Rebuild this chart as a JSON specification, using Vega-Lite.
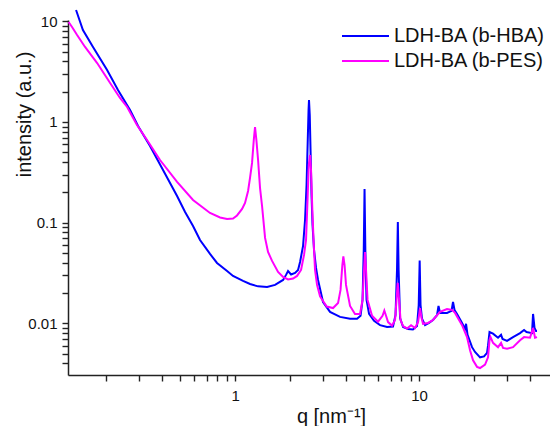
{
  "$schema": "https://vega.github.io/schema/vega-lite/v6.json",
  "width": 482,
  "height": 355,
  "autosize": {"type": "none"},
  "padding": {"left": 68, "top": 20, "right": 0, "bottom": 51},
  "background": "white",
  "config": {"view": {"stroke": null}, "font": "Liberation Sans"},
  "datasets": {
    "hba": [
      {"q":0.1367,"I":12.95},{"q":0.149,"I":8.2},{"q":0.169,"I":5.56},{"q":0.2016,"I":3.28},{"q":0.231,"I":2.08},{"q":0.2687,"I":1.316},{"q":0.297,"I":0.913},{"q":0.345,"I":0.578},{"q":0.406,"I":0.334},{"q":0.484,"I":0.184},{"q":0.535,"I":0.1277},{"q":0.591,"I":0.0927},{"q":0.645,"I":0.0673},{"q":0.731,"I":0.0489},{"q":0.798,"I":0.0398},{"q":0.905,"I":0.0331},{"q":0.975,"I":0.0296},{"q":1.105,"I":0.0264},{"q":1.206,"I":0.0246},{"q":1.334,"I":0.0233},{"q":1.493,"I":0.023},{"q":1.65,"I":0.0241},{"q":1.824,"I":0.027},{"q":1.893,"I":0.0303},{"q":1.941,"I":0.0331},{"q":2.016,"I":0.0306},{"q":2.119,"I":0.0317},{"q":2.2,"I":0.0339},{"q":2.256,"I":0.0407},{"q":2.342,"I":0.0587},{"q":2.401,"I":0.1063},{"q":2.447,"I":0.237},{"q":2.484,"I":0.662},{"q":2.509,"I":1.316},{"q":2.523,"I":1.654},{"q":2.547,"I":1.173},{"q":2.572,"I":0.527},{"q":2.604,"I":0.188},{"q":2.637,"I":0.0948},{"q":2.687,"I":0.0536},{"q":2.755,"I":0.0355},{"q":2.825,"I":0.027},{"q":3.007,"I":0.0163},{"q":3.283,"I":0.013},{"q":3.721,"I":0.0116},{"q":4.217,"I":0.0111},{"q":4.603,"I":0.0111},{"q":4.81,"I":0.0119},{"q":4.93,"I":0.0171},{"q":5.006,"I":0.0536},{"q":5.056,"I":0.216},{"q":5.107,"I":0.0536},{"q":5.184,"I":0.0171},{"q":5.35,"I":0.0124},{"q":5.694,"I":0.0106},{"q":6.138,"I":0.0096},{"q":6.7,"I":0.0092},{"q":7.22,"I":0.0093},{"q":7.45,"I":0.0121},{"q":7.59,"I":0.0339},{"q":7.67,"I":0.1016},{"q":7.745,"I":0.0339},{"q":7.885,"I":0.0113},{"q":8.19,"I":0.0092},{"q":8.71,"I":0.0088},{"q":9.27,"I":0.0087},{"q":9.75,"I":0.0094},{"q":9.96,"I":0.0152},{"q":10.08,"I":0.0421},{"q":10.19,"I":0.0152},{"q":10.38,"I":0.0111},{"q":10.78,"I":0.0096},{"q":11.33,"I":0.0101},{"q":11.91,"I":0.0108},{"q":12.53,"I":0.0121},{"q":12.76,"I":0.0149},{"q":13.01,"I":0.0127},{"q":14.19,"I":0.0127},{"q":15.02,"I":0.0133},{"q":15.3,"I":0.0163},{"q":15.59,"I":0.0136},{"q":16.09,"I":0.0124},{"q":17.13,"I":0.0101},{"q":17.78,"I":0.0088},{"q":18.01,"I":0.0099},{"q":18.35,"I":0.0077},{"q":19.41,"I":0.0058},{"q":20.15,"I":0.0052},{"q":21.46,"I":0.0046},{"q":22.56,"I":0.0047},{"q":23.42,"I":0.0051},{"q":23.71,"I":0.006},{"q":24.16,"I":0.0082},{"q":25.24,"I":0.0079},{"q":26.87,"I":0.0072},{"q":27.91,"I":0.0077},{"q":28.44,"I":0.007},{"q":30.08,"I":0.0067},{"q":32.43,"I":0.0073},{"q":35.4,"I":0.008},{"q":37.22,"I":0.0086},{"q":38.39,"I":0.0082},{"q":41.12,"I":0.008},{"q":41.66,"I":0.0124},{"q":42.43,"I":0.009},{"q":43.24,"I":0.0084},{"q":43.78,"I":0.0084}
    ],
    "pes": [
      {"q":0.1245,"I":9.84},{"q":0.13,"I":8.78},{"q":0.1385,"I":7.31},{"q":0.153,"I":5.56},{"q":0.178,"I":3.85},{"q":0.2094,"I":2.44},{"q":0.237,"I":1.731},{"q":0.259,"I":1.41},{"q":0.293,"I":0.934},{"q":0.3324,"I":0.662},{"q":0.391,"I":0.419},{"q":0.484,"I":0.2536},{"q":0.591,"I":0.168},{"q":0.731,"I":0.1248},{"q":0.829,"I":0.1126},{"q":0.905,"I":0.1088},{"q":0.975,"I":0.11},{"q":1.025,"I":0.1179},{"q":1.092,"I":0.1368},{"q":1.133,"I":0.157},{"q":1.177,"I":0.2064},{"q":1.206,"I":0.278},{"q":1.237,"I":0.392},{"q":1.264,"I":0.662},{"q":1.284,"I":0.892},{"q":1.306,"I":0.662},{"q":1.334,"I":0.419},{"q":1.367,"I":0.221},{"q":1.402,"I":0.1464},{"q":1.456,"I":0.0705},{"q":1.511,"I":0.0512},{"q":1.589,"I":0.0417},{"q":1.713,"I":0.0324},{"q":1.824,"I":0.0289},{"q":1.941,"I":0.0273},{"q":2.067,"I":0.0279},{"q":2.173,"I":0.0296},{"q":2.284,"I":0.0339},{"q":2.371,"I":0.0478},{"q":2.431,"I":0.0673},{"q":2.477,"I":0.168},{"q":2.515,"I":0.374},{"q":2.556,"I":0.47},{"q":2.588,"I":0.334},{"q":2.631,"I":0.1337},{"q":2.671,"I":0.0673},{"q":2.721,"I":0.0339},{"q":2.79,"I":0.0241},{"q":2.897,"I":0.0185},{"q":3.15,"I":0.0147},{"q":3.41,"I":0.0142},{"q":3.629,"I":0.0159},{"q":3.744,"I":0.0215},{"q":3.83,"I":0.038},{"q":3.878,"I":0.0462},{"q":3.937,"I":0.038},{"q":4.009,"I":0.0241},{"q":4.217,"I":0.0149},{"q":4.487,"I":0.0124},{"q":4.778,"I":0.0124},{"q":4.93,"I":0.0171},{"q":5.024,"I":0.0339},{"q":5.088,"I":0.0512},{"q":5.152,"I":0.0339},{"q":5.25,"I":0.0171},{"q":5.553,"I":0.0119},{"q":5.986,"I":0.0104},{"q":6.332,"I":0.0119},{"q":6.476,"I":0.0134},{"q":6.616,"I":0.0119},{"q":6.786,"I":0.0103},{"q":7.13,"I":0.0095},{"q":7.406,"I":0.0108},{"q":7.545,"I":0.0171},{"q":7.659,"I":0.0252},{"q":7.79,"I":0.0171},{"q":7.935,"I":0.0108},{"q":8.19,"I":0.0094},{"q":8.61,"I":0.0089},{"q":9.05,"I":0.0096},{"q":9.51,"I":0.009},{"q":9.88,"I":0.0103},{"q":10.13,"I":0.0142},{"q":10.32,"I":0.0113},{"q":10.51,"I":0.0099},{"q":11.19,"I":0.0101},{"q":11.91,"I":0.0108},{"q":13.01,"I":0.013},{"q":14.19,"I":0.0139},{"q":15.11,"I":0.0136},{"q":15.69,"I":0.0127},{"q":17.13,"I":0.0096},{"q":18.23,"I":0.0073},{"q":18.93,"I":0.0054},{"q":19.66,"I":0.0043},{"q":20.66,"I":0.0037},{"q":21.46,"I":0.0036},{"q":22.85,"I":0.0039},{"q":23.71,"I":0.0046},{"q":24.16,"I":0.0068},{"q":24.46,"I":0.0073},{"q":25.24,"I":0.0064},{"q":26.87,"I":0.0058},{"q":27.91,"I":0.0064},{"q":28.61,"I":0.0057},{"q":30.08,"I":0.0056},{"q":32.43,"I":0.0058},{"q":35.4,"I":0.0068},{"q":37.22,"I":0.0073},{"q":40.12,"I":0.0072},{"q":41.66,"I":0.009},{"q":42.7,"I":0.0072},{"q":43.78,"I":0.0073}
    ]
  },
  "layer": [
    {
      "data": {"name": "hba"},
      "transform": [{"calculate": "'LDH-BA (b-HBA)'", "as": "s"}],
      "mark": {"type": "line", "strokeWidth": 2},
      "encoding": {
        "x": {"field": "q", "type": "quantitative",
          "scale": {"type": "log", "domain": [0.1236, 51.5], "nice": false},
          "axis": {"orient": "bottom", "values": [0.2,0.3,0.4,0.5,0.6,0.7,0.8,0.9,1,2,3,4,5,6,7,8,9,10,20,30,40],
            "labelExpr": "abs(log(datum.value)/LN10 - round(log(datum.value)/LN10)) < 0.000001 ? format(datum.value, '~g') : ''",
            "grid": false,
            "tickSize": 6,
            "encode": {"ticks": {"update": {"y2": {"signal": "abs(log(datum.value)/LN10 - round(log(datum.value)/LN10)) < 0.000001 ? 6 : 3"}}}},
            "tickWidth": 1.4, "tickColor": "#222", "domainColor": "#222", "domainWidth": 1.5,
            "labelFontSize": 15, "labelColor": "#111", "labelFont": "Liberation Sans", "labelPadding": 7, "labelOverlap": false,
            "title": "q [nm⁻¹]", "titleFont": "Liberation Sans", "titleFontSize": 20, "titleFontWeight": "normal", "titleColor": "#111", "titleX": 263, "titleY": 47, "titleBaseline": "alphabetic"}},
        "y": {"field": "I", "type": "quantitative",
          "scale": {"type": "log", "domain": [0.00307, 10.3], "nice": false},
          "axis": {"orient": "left", "values": [0.004,0.005,0.006,0.007,0.008,0.009,0.01,0.02,0.03,0.04,0.05,0.06,0.07,0.08,0.09,0.1,0.2,0.3,0.4,0.5,0.6,0.7,0.8,0.9,1,2,3,4,5,6,7,8,9,10],
            "labelExpr": "abs(log(datum.value)/LN10 - round(log(datum.value)/LN10)) < 0.000001 ? format(datum.value, '~g') : ''",
            "grid": false,
            "tickSize": 6,
            "encode": {"ticks": {"update": {"x2": {"signal": "abs(log(datum.value)/LN10 - round(log(datum.value)/LN10)) < 0.000001 ? -6 : -3"}}}},
            "tickWidth": 1.4, "tickColor": "#222", "domainColor": "#222", "domainWidth": 1.5,
            "labelFontSize": 15, "labelColor": "#111", "labelFont": "Liberation Sans", "labelPadding": 5, "labelOverlap": false,
            "title": "intensity (a.u.)", "titleFont": "Liberation Sans", "titleFontSize": 20, "titleFontWeight": "normal", "titleColor": "#111", "titleX": -38, "titleY": 94, "titleBaseline": "alphabetic"}},
        "color": {"field": "s", "type": "nominal",
          "scale": {"domain": ["LDH-BA (b-HBA)", "LDH-BA (b-PES)"], "range": ["#0000ff", "#ff00ff"]},
          "legend": {"orient": "none", "legendX": 273, "legendY": 4.5, "title": null, "symbolType": "stroke", "symbolSize": 2209, "symbolStrokeWidth": 2, "clipHeight": 23, "rowPadding": 2, "padding": 0, "labelFontSize": 20, "labelFont": "Liberation Sans", "labelColor": "#111", "labelOffset": 4, "labelLimit": 400}}
      }
    },
    {
      "data": {"name": "pes"},
      "transform": [{"calculate": "'LDH-BA (b-PES)'", "as": "s"}],
      "mark": {"type": "line", "strokeWidth": 2},
      "encoding": {
        "x": {"field": "q", "type": "quantitative"},
        "y": {"field": "I", "type": "quantitative"},
        "color": {"field": "s", "type": "nominal"}
      }
    }
  ]
}
